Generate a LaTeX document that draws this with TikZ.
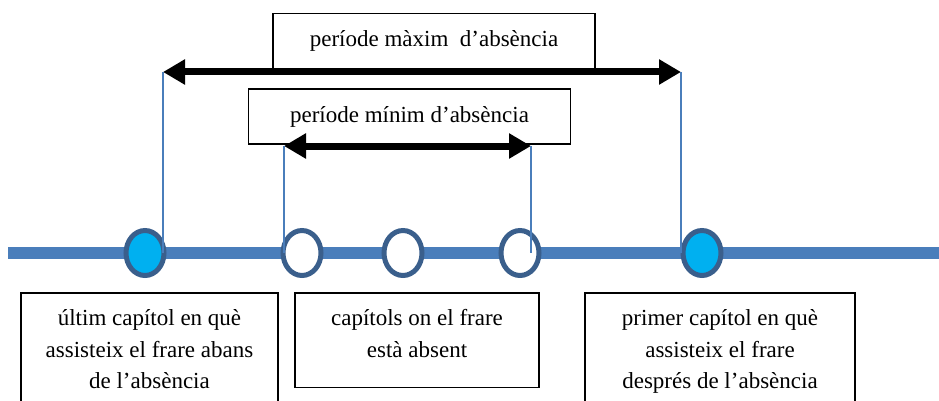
\documentclass[tikz,border=0pt]{standalone}
\usepackage{fontspec}
\setmainfont{Liberation Serif}
\usetikzlibrary{arrows.meta, positioning, shapes}

\definecolor{lineblue}{RGB}{74,126,187}
\definecolor{ringblue}{RGB}{58,95,140}
\definecolor{dotcyan}{RGB}{0,176,240}

\begin{document}
\begin{tikzpicture}[
        x=1pt, y=1pt,
        font=\fontsize{23}{31.5}\selectfont,
        chapter/.style={ellipse, draw=ringblue, line width=5pt, minimum width=38pt, minimum height=45pt, inner sep=0pt},
        present/.style={chapter, fill=dotcyan},
        absent/.style={chapter, fill=white},
        period/.style={rectangle, draw, line width=1.5pt, minimum width=322pt, minimum height=55pt, inner sep=0pt, fill=white},
        infobox/.style={rectangle, draw, line width=1.5pt, align=center, anchor=north, inner xsep=4pt, inner ysep=10pt},
        span/.style={<->, line width=7pt},
        stem/.style={draw=lineblue, line width=1.5pt},
        >={Triangle[length=22pt, width=24pt]}
      ]

      \clip (0,0) rectangle (939,-401);

      % Timeline
      \coordinate (start) at (8,-253);
      \coordinate (end) at (945,-253);
      \draw[lineblue, line width=12pt] (start) -- (end);

      % Chapters
      \node[present] (c1) at (145,-253) {};
      \node[absent, right=114pt of c1] (c2) {};
      \node[absent, right=58pt of c2] (c3) {};
      \node[absent, right=74pt of c3] (c4) {};
      \node[present, right=139pt of c4] (c5) {};

      % Period boxes
      \node[period] (maxbox) at (434,-41) {període màxim\ \ d’absència};
      \node[period] (minbox) at (409.5,-116.5) {període mínim d’absència};

      % Arrow ends
      \coordinate (maxL) at (163,-72);
      \coordinate (maxR) at (681,-72);
      \coordinate (minL) at (284,-146);
      \coordinate (minR) at (531,-146);

      % Arrows
      \draw[span] (maxL) -- (maxR);
      \draw[span] (minL) -- (minR);

      % Stems down to the timeline
      \draw[stem] (maxL) -- (maxL |- c1);
      \draw[stem] (minL) -- (minL |- c2);
      \draw[stem] (minR) -- (minR |- c4);
      \draw[stem] (maxR) -- (maxR |- c5);

      % Explanations
      \node[infobox, minimum width=257pt, text height=86pt, text depth=24pt] (before) at (149.5,-292) {últim capítol en què\\assisteix el frare abans\\de l’absència};
      \node[infobox, minimum width=244pt, text height=54.5pt, text depth=20pt] (during) at (417,-292) {capítols on el frare\\està absent};
      \node[infobox, minimum width=270pt, text height=86pt, text depth=24pt] (after) at (720,-292) {primer capítol en què\\assisteix el frare\\després de l’absència};

      \end{tikzpicture}
\end{document}
